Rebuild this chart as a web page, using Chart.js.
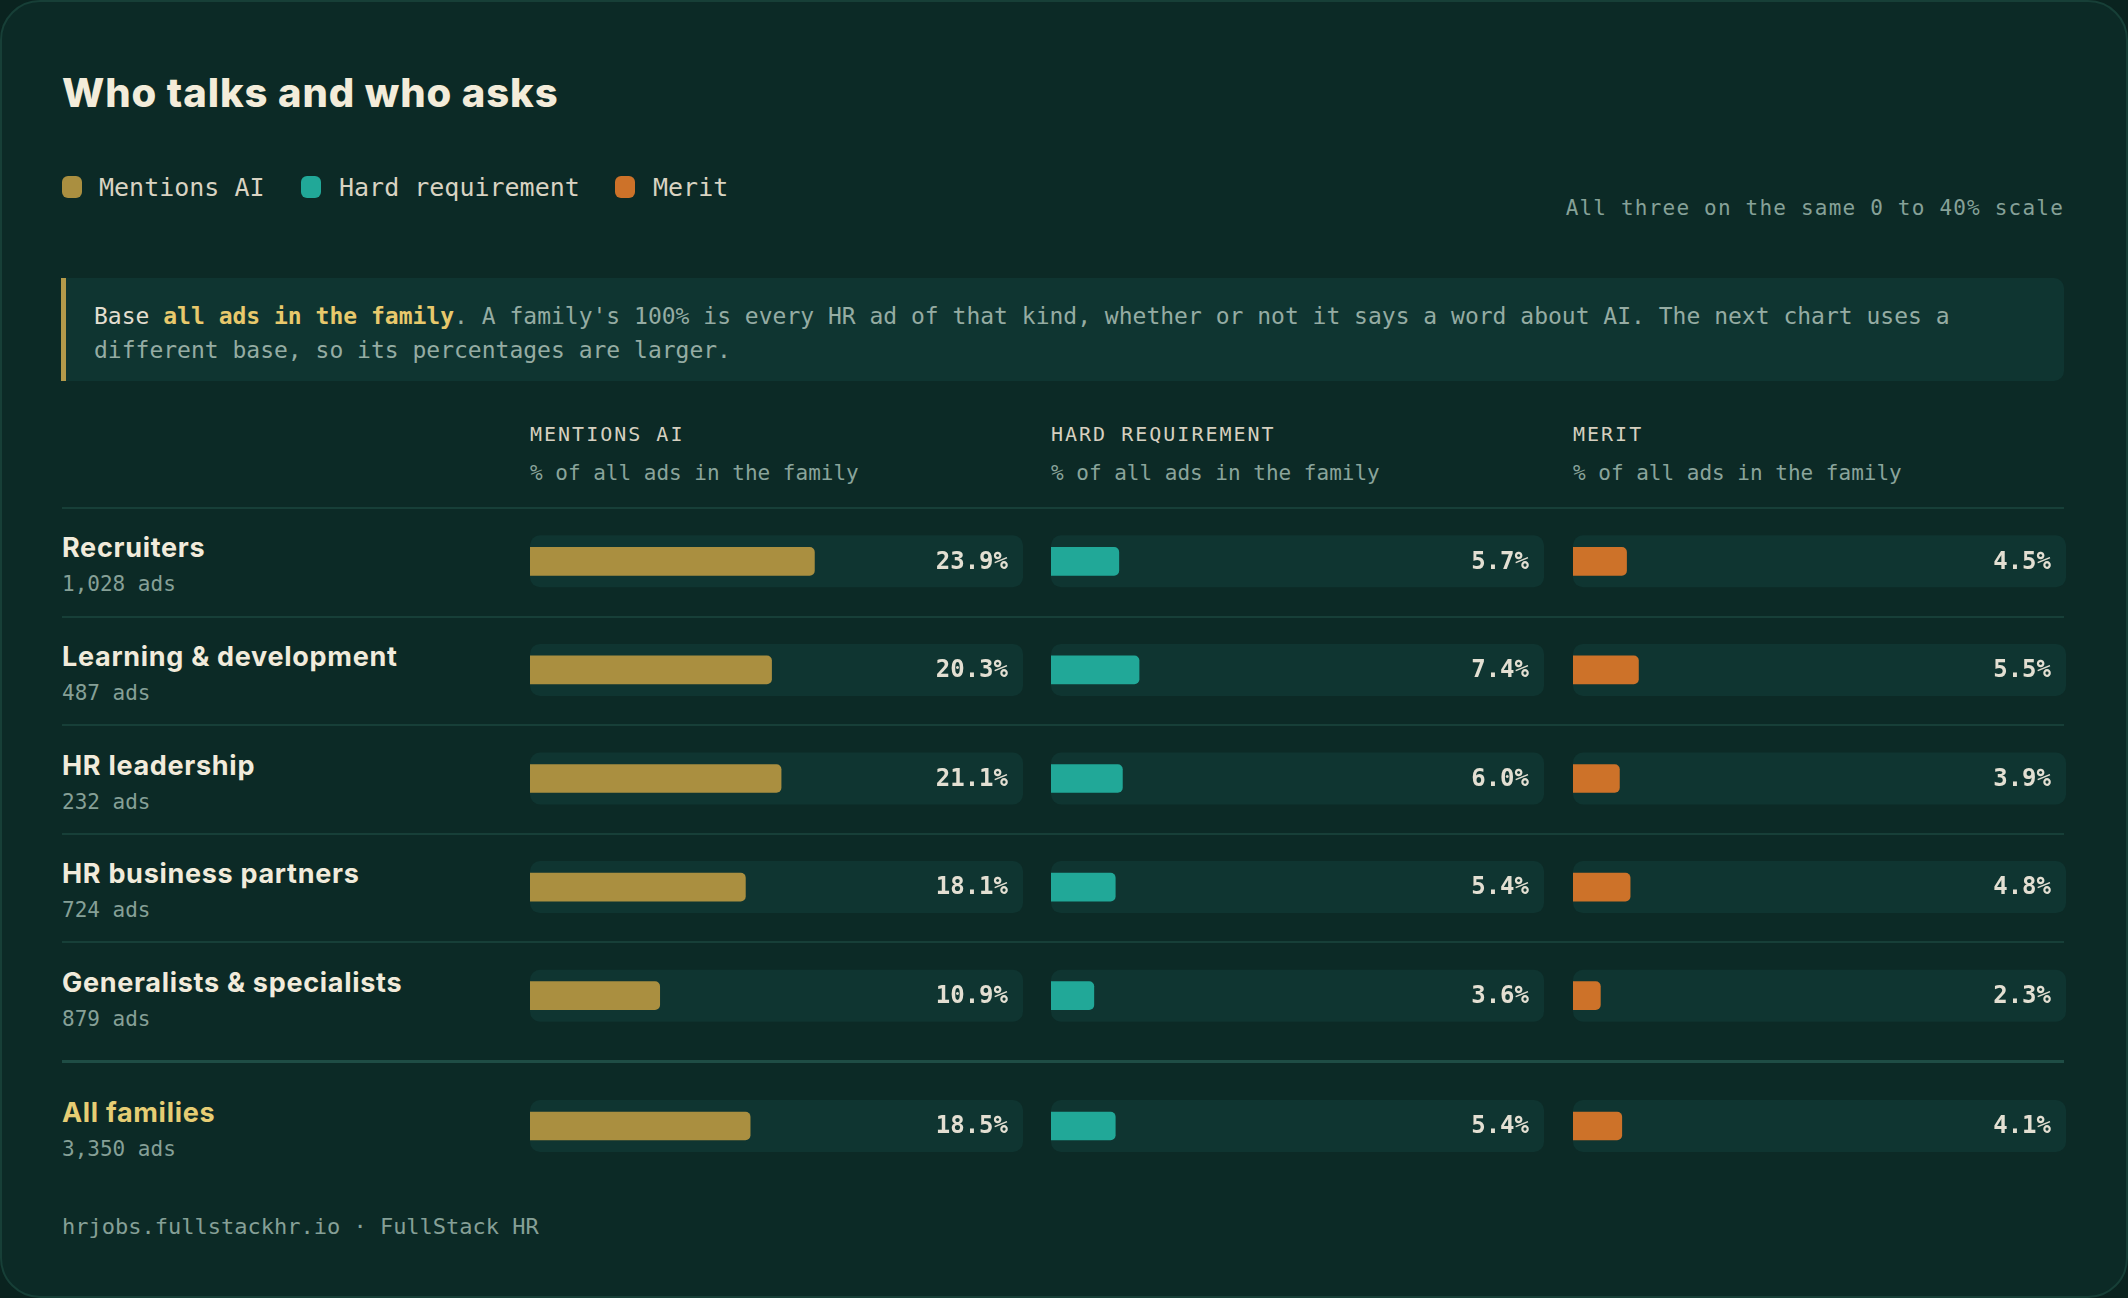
<!DOCTYPE html>
<html>
<head>
<meta charset="utf-8">
<script src="https://cdn.jsdelivr.net/npm/chart.js@4.4.1/dist/chart.umd.min.js"></script>
<style>
    html, body { margin: 0; padding: 0; background: #0a231f; }
    #card {
        position: relative;
        width: 2128px;
        height: 1298px;
        box-sizing: border-box;
        background: #0c2a26;
        border: 2px solid #173f37;
        border-radius: 40px;
        overflow: hidden;
        font-family: "DejaVu Sans Mono", monospace;
    }
    .abs { position: absolute; white-space: nowrap; }
    .title { left: 60px; top: 68px; font: 800 40px/46px Inter, sans-serif; color: #f3ecda; letter-spacing: 0.9px; }
    .swatch { width: 20px; height: 22px; border-radius: 6px; top: 174px; }
    .legend { top: 171px; font-size: 25px; line-height: 30px; color: #d9d3c2; }
    .scaleNote { right: 62px; top: 191px; font-size: 21px; line-height: 30px; color: #86a198; letter-spacing: 1.2px; }
    .note {
        left: 59px; top: 276px; width: 2003px; height: 103px; box-sizing: border-box;
        background: #0f3531; border-left: 5px solid #b39a4a; border-radius: 0 10px 10px 0;
        padding: 21px 20px 0 28px; font-size: 23px; line-height: 34px; color: #95aca3; white-space: normal;
    }
    .note .lead { color: #e3ded0; }
    .note b { color: #e8c96c; }
    .colHead { top: 419px; font-size: 20px; line-height: 26px; letter-spacing: 2px; color: #d6d0c0; }
    .colSub { top: 458px; font-size: 21px; line-height: 26px; color: #8aa49b; }
    .rule { left: 60px; width: 2002px; height: 2px; background: #173f38; }
    .name { font: 700 27px/34px Inter, sans-serif; color: #f1ebdb; left: 60px; letter-spacing: 0.7px; }
    .count { font-size: 21px; line-height: 26px; color: #86a097; left: 60px; }
    .footer { left: 60px; top: 1211px; font-size: 22px; line-height: 28px; color: #86a097; }
    canvas { position: absolute; }
</style>
</head>
<body>
<div id="card">
    <div class="abs title">Who talks and who asks</div>

    <div class="abs swatch" style="left:60px;background:#aa8f40"></div>
    <div class="abs legend" style="left:97px">Mentions AI</div>
    <div class="abs swatch" style="left:299px;background:#21a898"></div>
    <div class="abs legend" style="left:337px">Hard requirement</div>
    <div class="abs swatch" style="left:613px;background:#cd7229"></div>
    <div class="abs legend" style="left:651px">Merit</div>
    <div class="abs scaleNote">All three on the same 0 to 40% scale</div>

    <div class="abs note"><span class="lead">Base</span> <b>all ads in the family</b>. A family's 100% is every HR ad of that kind, whether or not it says a word about AI. The next chart uses a<br>different base, so its percentages are larger.</div>

    <div id="table"></div>

    <div class="abs footer">hrjobs.fullstackhr.io · FullStack HR</div>
</div>

<script>
const families = ["Recruiters", "Learning & development", "HR leadership", "HR business partners", "Generalists & specialists"];
const adCounts = [1028, 487, 232, 724, 879];
const mentionsAI = [23.9, 20.3, 21.1, 18.1, 10.9];
const hardRequirement = [5.7, 7.4, 6.0, 5.4, 3.6];
const merit = [4.5, 5.5, 3.9, 4.8, 2.3];

const totalLabel = "All families";
const totalAds = 3350;
const totalValues = [18.5, 5.4, 4.1];

const columnTitles = ["MENTIONS AI", "HARD REQUIREMENT", "MERIT"];
const columnSubtitle = "% of all ads in the family";
const scaleMax = 40;

// layout
const colors = ["#aa8f40", "#21a898", "#cd7229"];
const colLeft = [528, 1049, 1571];
const colWidth = 493;
const rowTop = 505;
const rowH = 108.6;
const totalTop = 1070;

const table = document.getElementById("table");

function addDiv(cls, text, style) {
    const d = document.createElement("div");
    d.className = "abs " + cls;
    d.textContent = text;
    Object.assign(d.style, style);
    table.appendChild(d);
    return d;
}

columnTitles.forEach((t, i) => {
    addDiv("colHead", t, { left: colLeft[i] + "px" });
    addDiv("colSub", columnSubtitle, { left: colLeft[i] + "px" });
});

addDiv("rule", "", { top: rowTop + "px" });

families.forEach((f, i) => {
    const c = rowTop + rowH * i + rowH / 2;
    addDiv("name", f, { top: (c - 30) + "px" });
    addDiv("count", adCounts[i].toLocaleString("en-US") + " ads", { top: (c + 10) + "px" });
    if (i < families.length - 1) {
        addDiv("rule", "", { top: (rowTop + rowH * (i + 1)) + "px" });
    }
});

addDiv("rule", "", { top: "1058px", height: "3px", background: "#1f4d45" });

const tc = totalTop + rowH / 2;
addDiv("name", totalLabel, { top: (tc - 30) + "px", color: "#e6cd74" });
addDiv("count", totalAds.toLocaleString("en-US") + " ads", { top: (tc + 10) + "px" });

// track behind each bar + value text at the right of the track
const trackPlugin = {
    id: "track",
    beforeDatasetsDraw(chart) {
        const ctx = chart.ctx;
        const y = chart.scales.y;
        ctx.save();
        ctx.fillStyle = "#0f3531";
        chart.data.labels.forEach((l, i) => {
            const py = y.getPixelForValue(i);
            ctx.beginPath();
            ctx.roundRect(0, py - 26, chart.width, 52, 10);
            ctx.fill();
        });
        ctx.restore();
    },
    afterDatasetsDraw(chart) {
        const ctx = chart.ctx;
        const y = chart.scales.y;
        ctx.save();
        ctx.fillStyle = "#e3dfd2";
        ctx.font = "bold 24px 'DejaVu Sans Mono', monospace";
        ctx.textAlign = "right";
        ctx.textBaseline = "middle";
        chart.data.datasets[0].data.forEach((v, i) => {
            ctx.fillText(v.toFixed(1) + "%", chart.width - 15, y.getPixelForValue(i) + 1);
        });
        ctx.restore();
    }
};

function makeChart(left, top, height, labels, values, color) {
    const canvas = document.createElement("canvas");
    canvas.width = colWidth;
    canvas.height = height;
    canvas.style.left = left + "px";
    canvas.style.top = top + "px";
    table.appendChild(canvas);

    return new Chart(canvas, {
        type: "bar",
        data: {
            labels: labels,
            datasets: [{
                data: values,
                backgroundColor: color,
                barThickness: 28,
                borderSkipped: "start",
                borderRadius: { topRight: 5, bottomRight: 5, topLeft: 0, bottomLeft: 0 }
            }]
        },
        options: {
            indexAxis: "y",
            responsive: false,
            animation: false,
            devicePixelRatio: 1,
            layout: { padding: { left: 0, right: 17, top: 0, bottom: 0 } },
            plugins: {
                legend: { display: false },
                tooltip: { enabled: false }
            },
            scales: {
                x: { display: false, min: 0, max: scaleMax },
                y: { display: false, offset: true }
            }
        },
        plugins: [trackPlugin]
    });
}

[mentionsAI, hardRequirement, merit].forEach((series, i) => {
    makeChart(colLeft[i], rowTop, rowH * families.length, families, series, colors[i]);
    makeChart(colLeft[i], totalTop, rowH, [totalLabel], [totalValues[i]], colors[i]);
});
</script>
</body>
</html>
